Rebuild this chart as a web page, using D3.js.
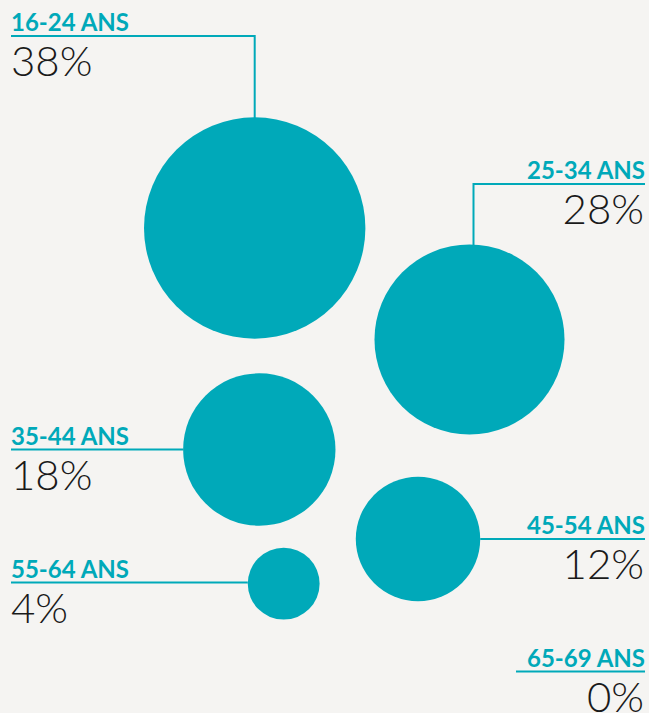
<!DOCTYPE html>
<html lang="fr">
<head>
<meta charset="UTF-8">
<title>Tranches d'âge</title>
<script src="https://cdn.jsdelivr.net/npm/d3@7"></script>
<style>
    html, body { margin: 0; padding: 0; background: #f5f4f2; }
    svg { display: block; }
</style>
</head>
<body>
<svg id="chart" width="649" height="713"></svg>
<script>
    // données
    var ageGroups = ["16-24 ANS", "25-34 ANS", "35-44 ANS", "45-54 ANS", "55-64 ANS", "65-69 ANS"];
    var shares = [38, 28, 18, 12, 4, 0];

    // mise en page (placement des bulles et des légendes)
    var centerX = [254.7, 469.5, 259.3, 418, 283.7, null];
    var centerY = [228, 339.5, 449.5, 539, 583.7, null];
    var labelSide = ["left", "right", "left", "right", "left", "right"];
    var leaderY = [36, 184, 449.5, 539, 582.5, 671.5];
    var leaderDx = [0, 4, 0, 0, 0, 0];

    var W = 649, H = 713;
    var leftX = 11, rightX = 645;
    var teal = "#00a9b9";

    var svg = d3.select("#chart");
    svg.append("rect").attr("width", W).attr("height", H).attr("fill", "#f5f4f2");

    var r = d3.scaleSqrt().domain([0, 38]).range([0, 110.7]);

    var rows = ageGroups.map(function (g, i) {
        return { name: g, value: shares[i], cx: centerX[i], cy: centerY[i],
                 side: labelSide[i], ly: leaderY[i], dx: leaderDx[i] };
    });

    // bulles
    svg.append("g").selectAll("circle")
        .data(rows.filter(function (d) { return d.value > 0; }))
        .enter().append("circle")
        .attr("cx", function (d) { return d.cx; })
        .attr("cy", function (d) { return d.cy; })
        .attr("r", function (d) { return r(d.value); })
        .attr("fill", teal);

    var labels = svg.append("g").selectAll("g").data(rows).enter().append("g");

    labels.append("text")
        .attr("class", "age")
        .attr("x", function (d) { return d.side == "left" ? leftX : rightX; })
        .attr("y", function (d) { return d.ly - 5; })
        .attr("text-anchor", function (d) { return d.side == "left" ? "start" : "end"; })
        .attr("font-family", "Lato, 'Open Sans', sans-serif")
        .attr("font-weight", 700)
        .attr("font-size", 24)
        .attr("fill", teal)
        .text(function (d) { return d.name; });

    labels.append("text")
        .attr("x", function (d) { return d.side == "left" ? leftX : rightX - 1; })
        .attr("y", function (d) { return d.ly + 40; })
        .attr("text-anchor", function (d) { return d.side == "left" ? "start" : "end"; })
        .attr("font-family", "Lato, 'Open Sans', sans-serif")
        .attr("font-weight", 300)
        .attr("font-size", 42)
        .attr("fill", "#1a1a1a")
        .text(function (d) { return d.value + "%"; });

    // traits de rappel
    labels.insert("path", "text")
        .attr("fill", "none")
        .attr("stroke", teal)
        .attr("stroke-width", 2)
        .attr("d", function (d) {
            if (d.value == 0) {
                var w = this.parentNode.querySelector("text.age").getComputedTextLength();
                return "M" + (rightX - w - 11) + "," + d.ly + "H" + rightX;
            }
            var rad = r(d.value);
            var startX = d.side == "left" ? leftX : rightX;
            if (d.ly < d.cy - rad) {
                var lx = d.cx + d.dx;
                var top = d.cy - Math.sqrt(rad * rad - d.dx * d.dx);
                return "M" + startX + "," + d.ly + "H" + lx + "V" + (top + 1);
            }
            var off = Math.sqrt(rad * rad - Math.pow(d.ly - d.cy, 2));
            var endX = d.side == "left" ? d.cx - off : d.cx + off;
            return "M" + startX + "," + d.ly + "H" + endX;
        });
</script>
</body>
</html>
